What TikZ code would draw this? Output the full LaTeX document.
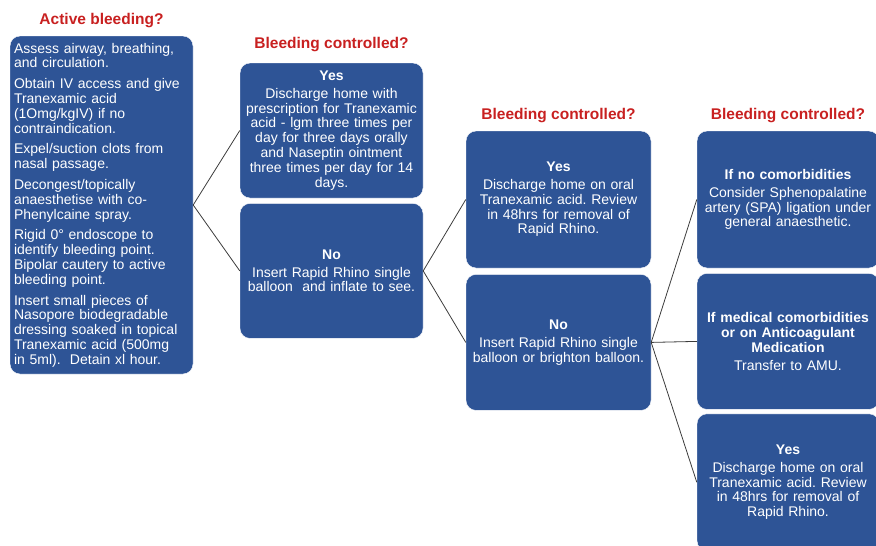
\documentclass[tikz,border=0pt]{standalone}
\usepackage{fontspec}
\setmainfont{Liberation Sans}
\usetikzlibrary{positioning}
\definecolor{boxblue}{RGB}{46,84,150}
\definecolor{headred}{RGB}{200,32,32}
\definecolor{linkgray}{RGB}{60,60,60}
\frenchspacing

\newcommand{\boxhead}[1]{\textbf{#1}\\[3pt]}

\begin{document}
\begin{tikzpicture}[
        x=1pt, y=-1pt,
        box/.style={fill=boxblue, draw=white, rounded corners=10pt, text=white, align=center,
                    font=\fontsize{14}{14.8}\selectfont, inner xsep=2pt, inner ysep=4pt, minimum width=183pt},
        title/.style={text=headred, font=\fontsize{15.5}{17}\selectfont\bfseries, inner sep=2pt},
        link/.style={draw=linkgray, line width=0.8pt}
    ]
    \useasboundingbox (0,0) rectangle (876,546);

    % Column 1
    \node[box, align=left, inner xsep=4pt, text width=175pt, minimum height=338pt] (assess) at (101.5,205)
        {Assess airway, breathing,\\ and circulation.\\[6pt]
         Obtain IV access and give\\ Tranexamic acid\\ (1Omg/kgIV) if no\\ contraindication.\\[6pt]
         Expel/suction clots from\\ nasal passage.\\[6pt]
         Decongest/topically\\ anaesthetise with co-\\ Phenylcaine spray.\\[6pt]
         Rigid 0° endoscope to\\ identify bleeding point.\\ Bipolar cautery to active\\ bleeding point.\\[6pt]
         Insert small pieces of\\ Nasopore biodegradable\\ dressing soaked in topical\\ Tranexamic acid (500mg\\ in 5ml).\ \ Detain xl hour.};
    \node[title] (q_active) [above=6pt of assess] {Active bleeding?};

    % Column 2
    \node[box, text width=179pt, minimum height=135pt] (yes1) at (331.5,130.5)
        {\boxhead{Yes}Discharge home with\\ prescription for Tranexamic\\ acid - lgm three times per\\ day for three days orally\\ and Naseptin ointment\\ three times per day for 14\\ days.};
    \node[box, text width=179pt, minimum height=135pt] (no1) [below=5pt of yes1]
        {\boxhead{No}Insert Rapid Rhino single\\ balloon\ \ and inflate to see.};
    \node[title] (q_ctrl1) [above=9pt of yes1] {Bleeding controlled?};

    % Column 3
    \node[box, text width=181pt, minimum width=185pt, minimum height=137pt] (yes2) at (558.5,199.5)
        {\boxhead{Yes}Discharge home on oral\\ Tranexamic acid. Review\\ in 48hrs for removal of\\ Rapid Rhino.};
    \node[box, text width=181pt, minimum width=185pt, minimum height=136pt] (no2) [below=6pt of yes2]
        {\boxhead{No}Insert Rapid Rhino single\\ balloon or brighton balloon.};
    \node[title] (q_ctrl2) [above=6pt of yes2] {Bleeding controlled?};

    % Column 4
    \node[box, text width=178pt, minimum width=182pt, minimum height=137pt] (spa) at (788,199.5)
        {\boxhead{If no comorbidities}Consider Sphenopalatine\\ artery (SPA) ligation under\\ general anaesthetic.};
    \node[box, text width=178pt, minimum width=182pt, minimum height=136pt] (amu) [below=5pt of spa]
        {\textbf{If medical comorbidities}\\ \textbf{or on Anticoagulant}\\ \boxhead{Medication}Transfer to AMU.};
    \node[box, text width=178pt, minimum width=182pt, minimum height=137pt] (yes3) [below=4pt of amu]
        {\boxhead{Yes}Discharge home on oral\\ Tranexamic acid. Review\\ in 48hrs for removal of\\ Rapid Rhino.};
    \node[title] (q_ctrl3) [above=6pt of spa] {Bleeding controlled?};

    % Connections
    \draw[link] (assess.east) -- (yes1.west);
    \draw[link] (assess.east) -- (no1.west);
    \draw[link] (no1.east) -- (yes2.west);
    \draw[link] (no1.east) -- (no2.west);
    \draw[link] (no2.east) -- (spa.west);
    \draw[link] (no2.east) -- (amu.west);
    \draw[link] (no2.east) -- (yes3.west);

\end{tikzpicture}
\end{document}
